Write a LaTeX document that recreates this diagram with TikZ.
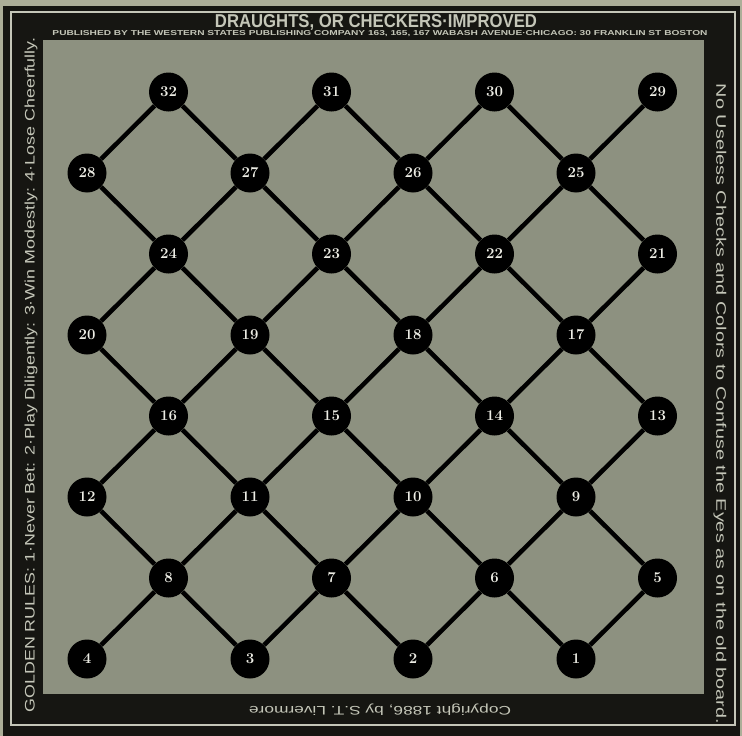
\documentclass[tikz,border=0pt]{standalone}
\usepackage{fontspec}
\usepackage{graphicx}
\usepackage{tikz}
\newfontfamily\bandfont{Liberation Sans}
\definecolor{paper}{RGB}{172,174,152}
\definecolor{frame}{RGB}{22,22,18}
\definecolor{board}{RGB}{141,145,128}
\definecolor{bandtext}{RGB}{196,198,184}
\definecolor{numwhite}{RGB}{236,236,228}

\begin{document}
\begin{tikzpicture}[x=1pt,y=-1pt,
  spot/.style={circle,fill=black,minimum size=39pt,inner sep=0pt,
    text=numwhite,font=\fontsize{15}{15}\selectfont\bfseries},
  rung/.style={line width=4.5pt,black},
  band/.style={text=bandtext,inner sep=0pt}]
  \useasboundingbox (0,0) rectangle (742,736);
  \fill[paper] (0,0) rectangle (742,736);
  \fill[frame] (3,6) rectangle (740,736);
  \draw[bandtext,line width=1.2pt] (11,12) rectangle (735,725);
  \fill[board] (43,40) rectangle (704,694);
  % the squares, numbered from the top
  \foreach \r in {0,...,7}{
    \foreach \k in {0,...,3}{
      \pgfmathtruncatemacro\n{32-4*\r-\k}
      \pgfmathtruncatemacro\c{2*\k+1-mod(\r,2)}
      \node[spot] (s\n) at ({87+81.5*\c},{92+81*\r}) {\n};
    }
  }
  % straight down the board
  \foreach \r in {0,...,6}{
    \foreach \k in {0,...,3}{
      \pgfmathtruncatemacro\n{32-4*\r-\k}
      \pgfmathtruncatemacro\m{\n-4}
      \draw[rung] (s\n) -- (s\m);
    }
  }
  % the other diagonal
  \foreach \r in {0,2,4,6}{
    \foreach \k in {0,1,2}{
      \pgfmathtruncatemacro\n{32-4*\r-\k}
      \pgfmathtruncatemacro\m{\n-5}
      \draw[rung] (s\n) -- (s\m);
    }
  }
  \foreach \r in {1,3,5}{
    \foreach \k in {1,2,3}{
      \pgfmathtruncatemacro\n{32-4*\r-\k}
      \pgfmathtruncatemacro\m{\n-3}
      \draw[rung] (s\n) -- (s\m);
    }
  }
  % border texts
  \node[band] (title) at (376,22)
    {\resizebox{322pt}{13pt}{\bandfont\bfseries DRAUGHTS, OR CHECKERS·IMPROVED}};
  \node[band] (publisher) at (380,34)
    {\resizebox{655pt}{5pt}{\bandfont\bfseries PUBLISHED BY THE WESTERN STATES PUBLISHING COMPANY 163, 165, 167 WABASH AVENUE·CHICAGO: 30 FRANKLIN ST BOSTON}};
  \node[band,rotate=90] (rules) at (31,375)
    {\resizebox{675pt}{10pt}{\bandfont GOLDEN RULES: 1·Never Bet: 2·Play Diligently: 3·Win Modestly: 4·Lose Cheerfully.}};
  \node[band,rotate=-90] (motto) at (720,404)
    {\resizebox{640pt}{10pt}{\bandfont No Useless Checks and Colors to Confuse the Eyes as on the old board.}};
  \node[band,rotate=180] (copy) at (380,710)
    {\resizebox{262pt}{9pt}{\bandfont Copyright 1886, by S.T. Livermore}};
\end{tikzpicture}
\end{document}
